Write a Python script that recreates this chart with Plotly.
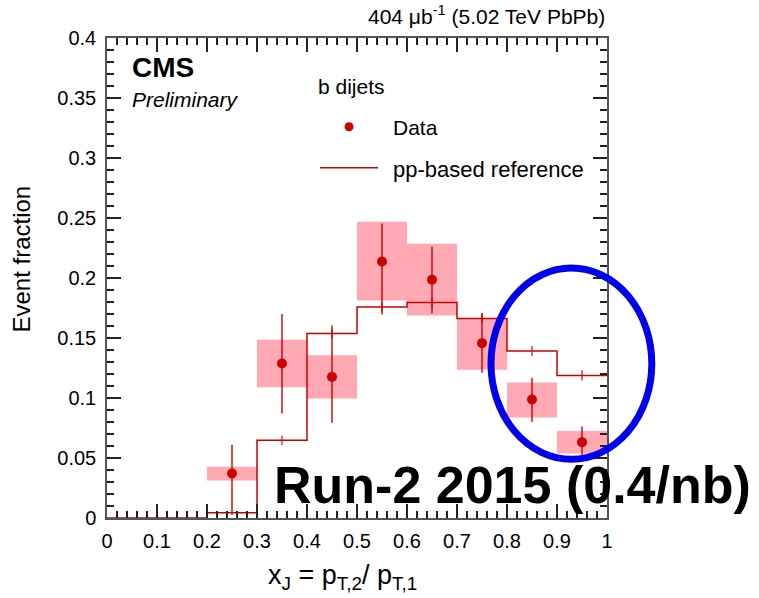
import plotly.graph_objects as go

# ---------------- data ----------------
bin_edges = [0.0, 0.1, 0.2, 0.3, 0.4, 0.5, 0.6, 0.7, 0.8, 0.9, 1.0]
bin_centers = [0.05, 0.15, 0.25, 0.35, 0.45, 0.55, 0.65, 0.75, 0.85, 0.95]
ref_values = [0.0, 0.0, 0.0043, 0.0647, 0.1537, 0.1758, 0.1795, 0.1662, 0.1392, 0.1188]
ref_errors = [0.0, 0.0, 0.002, 0.004, 0.004, 0.004, 0.004, 0.004, 0.0042, 0.0043]

data_x = [0.25, 0.35, 0.45, 0.55, 0.65, 0.75, 0.85, 0.95]
data_y = [0.0371, 0.1287, 0.1176, 0.2137, 0.1985, 0.1457, 0.0988, 0.0632]
data_err_up = [0.024, 0.0414, 0.0428, 0.0317, 0.0275, 0.0253, 0.018, 0.0131]
data_err_dn = [0.0317, 0.0416, 0.0383, 0.0441, 0.0278, 0.0247, 0.0189, 0.011]
sys_lo = [0.0312, 0.109, 0.0996, 0.1812, 0.1687, 0.1235, 0.0838, 0.0538]
sys_hi = [0.0427, 0.1485, 0.1357, 0.2468, 0.2285, 0.1665, 0.1129, 0.0724]
bin_width = 0.1
x_range = [0, 1]
y_range = [0, 0.4]

RED = "#cc0000"
PINK = "#ffa9b5"
FONT = "Liberation Sans, Arial, Helvetica, sans-serif"
TICKC = "#222222"

fig = go.Figure()

# systematic boxes
fig.add_trace(go.Bar(
    x=data_x,
    y=[h - l for h, l in zip(sys_hi, sys_lo)],
    base=sys_lo,
    width=bin_width,
    marker=dict(color=PINK, line=dict(width=0)),
    showlegend=False,
    hoverinfo="skip",
))

# pp-based reference histogram (step line)
fig.add_trace(go.Scatter(
    x=bin_edges,
    y=ref_values + [ref_values[-1]],
    mode="lines",
    line=dict(color=RED, width=1.5, shape="hv"),
    showlegend=False,
    hoverinfo="skip",
    cliponaxis=False,
))
# reference stat errors
fig.add_trace(go.Scatter(
    x=bin_centers[2:],
    y=ref_values[2:],
    mode="markers",
    marker=dict(size=1, color="rgba(0,0,0,0)"),
    error_y=dict(type="data", array=ref_errors[2:], width=0, thickness=1.5,
                 color="rgba(204,0,0,0.75)"),
    showlegend=False,
    hoverinfo="skip",
))

# data points
fig.add_trace(go.Scatter(
    x=data_x,
    y=data_y,
    mode="markers",
    marker=dict(size=10, color=RED),
    error_y=dict(type="data", symmetric=False, array=data_err_up,
                 arrayminus=data_err_dn, width=0, thickness=2,
                 color="rgba(204,0,0,0.7)"),
    showlegend=False,
))

# invisible trace to carry the mirrored (top/right) tick axes
fig.add_trace(go.Scatter(
    x=x_range, y=y_range, xaxis="x2", yaxis="y2", mode="markers",
    marker=dict(size=1, color="rgba(0,0,0,0)"), showlegend=False, hoverinfo="skip",
))

minor_x = dict(dtick=0.02, tick0=0, ticks="inside", ticklen=7, tickwidth=1.5, tickcolor=TICKC)
minor_y = dict(dtick=0.01, tick0=0, ticks="inside", ticklen=7, tickwidth=1.5, tickcolor=TICKC)

axis_common = dict(
    showgrid=False, zeroline=False,
    showline=True, linecolor="#555555", linewidth=1.5, mirror=True,
    ticks="inside", ticklen=14, tickwidth=1.5, tickcolor=TICKC,
    tickfont=dict(family=FONT, size=20, color="#000000"),
)
mirror_common = dict(
    showgrid=False, zeroline=False, showline=False, showticklabels=False,
    ticks="inside", ticklen=14, tickwidth=1.5, tickcolor=TICKC,
)

fig.update_layout(
    xaxis=dict(range=x_range, tick0=0, dtick=0.1, minor=minor_x,
               ticklabelstandoff=4, **axis_common),
    yaxis=dict(range=y_range, tick0=0, dtick=0.05, minor=minor_y,
               ticklabelstandoff=5, **axis_common),
    xaxis2=dict(range=x_range, tick0=0, dtick=0.1, overlaying="x", side="top", anchor="y2",
                minor=minor_x, **mirror_common),
    yaxis2=dict(range=y_range, tick0=0, dtick=0.05, overlaying="y", side="right", anchor="x2",
                minor=minor_y, **mirror_common),
)

annotations = [
    dict(text="404 \u03bcb<sup>-1</sup> (5.02 TeV PbPb)", x=1.0, y=1.047,
         xanchor="right", yanchor="middle", font=dict(size=21)),
    dict(text="<b>CMS</b>", x=0.046, y=0.938, xanchor="left", yanchor="middle",
         font=dict(size=28)),
    dict(text="<i>Preliminary</i>", x=0.046, y=0.872, xanchor="left", yanchor="middle",
         font=dict(size=21)),
    dict(text="b dijets", x=0.418, y=0.898, xanchor="left", yanchor="middle",
         font=dict(size=21)),
    dict(text="Data", x=0.568, y=0.813, xanchor="left", yanchor="middle",
         font=dict(size=21)),
    dict(text="pp-based reference", x=0.568, y=0.727, xanchor="left", yanchor="middle",
         font=dict(size=22)),
    dict(text="x<sub>J</sub> = p<sub>T,2</sub>/ p<sub>T,1</sub>", x=0.471, y=-0.122,
         xanchor="center", yanchor="middle", font=dict(size=27)),
    dict(text="Event fraction", x=-0.17, y=0.5385, textangle=-90,
         xanchor="center", yanchor="middle", font=dict(size=24)),
    dict(text="<b>Run-2 2015 (0.4/nb)</b>", x=0.33, y=0.068, xanchor="left",
         yanchor="middle", font=dict(size=52)),
]
for a in annotations:
    a.update(xref="paper", yref="paper", showarrow=False)
    a["font"].update(family=FONT, color="#000000")

shapes = [
    # legend glyphs
    dict(type="line", xref="paper", yref="paper", x0=0.426, x1=0.542, y0=0.7296, y1=0.7296,
         line=dict(color=RED, width=1.5)),
    dict(type="circle", xref="paper", yref="paper", x0=0.484 - 0.009, x1=0.484 + 0.009,
         y0=0.815 - 0.0094, y1=0.815 + 0.0094, fillcolor=RED, line=dict(width=0)),
    # blue ellipse highlight
    dict(type="circle", xref="paper", yref="paper", x0=0.768, x1=1.0896, y0=0.1223, y1=0.5208,
         line=dict(color="#0000ee", width=7), layer="above"),
]

fig.update_layout(
    width=759, height=598,
    margin=dict(l=107, r=152, t=38, b=80),
    paper_bgcolor="white", plot_bgcolor="white",
    annotations=annotations, shapes=shapes,
    barmode="overlay", showlegend=False,
    font=dict(family=FONT),
)

fig.write_html("out.html")
